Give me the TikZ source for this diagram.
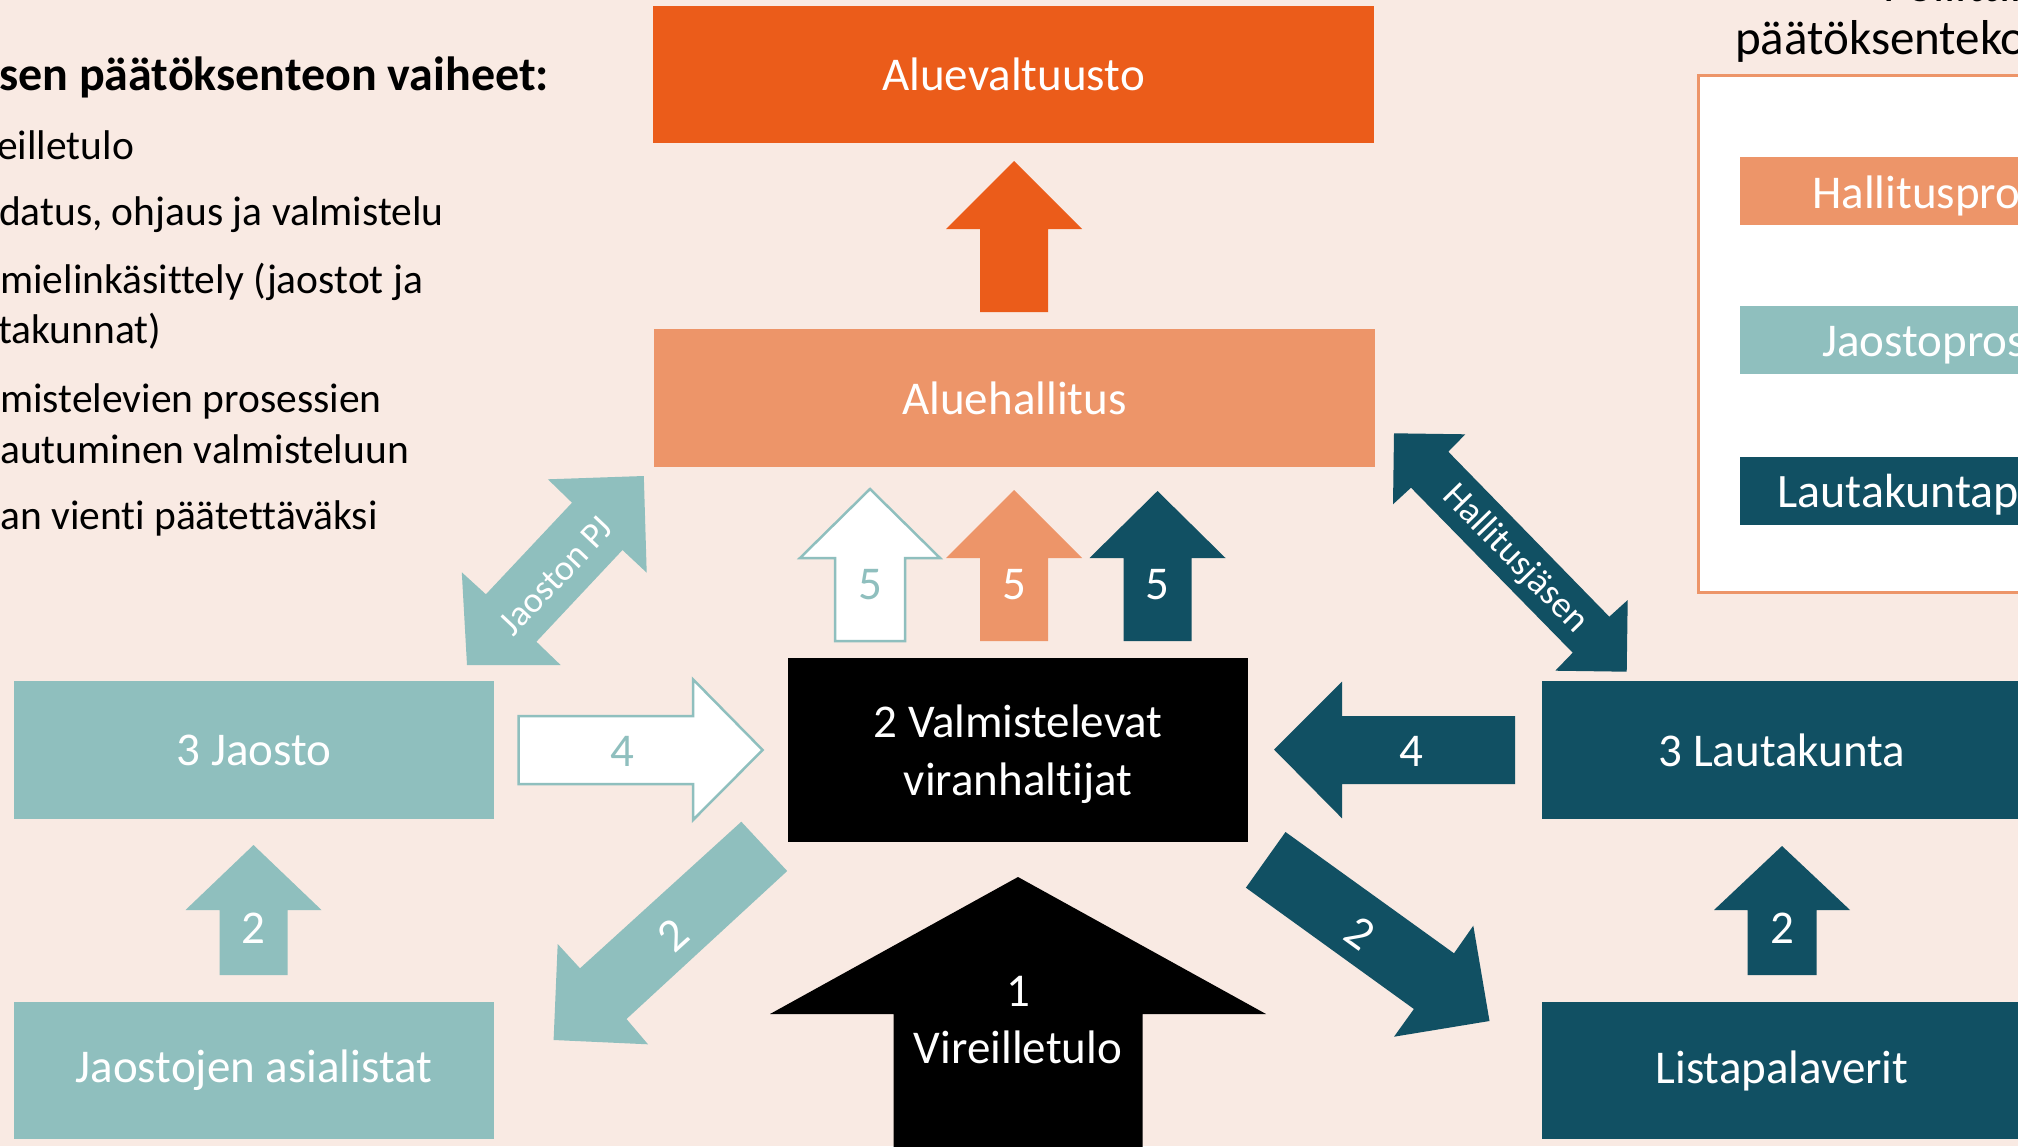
\documentclass[tikz,border=0pt]{standalone}
\usepackage{fontspec}
\setmainfont{Carlito}[Ligatures=NoCommon]

\definecolor{bgc}{RGB}{249,234,227}
\definecolor{orD}{RGB}{235,92,26}
\definecolor{orL}{RGB}{237,149,105}
\definecolor{teL}{RGB}{143,191,190}
\definecolor{teD}{RGB}{17,80,99}

% upward block arrow: style, centre x, tip y, head half width, shaft half width, head base y, tail y
\newcommand{\blockup}[7]{%
  \path[#1] (#2,#3) -- ({#2+#4},#6) -- ({#2+#5},#6) -- ({#2+#5},#7)
    -- ({#2-#5},#7) -- ({#2-#5},#6) -- ({#2-#4},#6) -- cycle;}

\tikzset{
  blk/.style={inner sep=0pt, outer sep=0pt, text=white, align=center,
    font=\fontsize{47pt}{58pt}\selectfont},
  lbl/.style={inner sep=0pt, text=white, align=center,
    font=\fontsize{47pt}{57pt}\selectfont},
  side/.style={inner sep=0pt, anchor=base west, text=black,
    font=\fontsize{41.5pt}{50pt}\selectfont},
  slant/.style={inner sep=0pt, text=white},
  outlined/.style={fill=white, draw=teL, line width=2.5pt, line join=miter},
}

\begin{document}
\begin{tikzpicture}[x=1pt,y=-1pt]
\useasboundingbox (0,0) rectangle (2018,1146);
\clip (0,0) rectangle (2018,1146);
\fill[bgc] (0,0) rectangle (2018,1146);

% ---- stages listed on the left ----
\node[side, font=\bfseries\fontsize{48pt}{56pt}\selectfont] (hdr) at (-1,90) {sen päätöksenteon vaiheet:};
\node[side] (s1) at (-3,159) {eilletulo};
\node[side] (s2) at (-23,225) {odatus, ohjaus ja valmistelu};
\node[side] (s3a) at (0,293) {mielinkäsittely (jaostot ja};
\node[side] (s3b) at (-2,343) {takunnat)};
\node[side] (s4a) at (0,412) {mistelevien prosessien};
\node[side] (s4b) at (0,463) {autuminen valmisteluun};
\node[side] (s5) at (0,529) {an vienti päätettäväksi};

% ---- legend on the right ----
\node[side, font=\fontsize{49pt}{56pt}\selectfont] (ttl1) at (1883,1) {Poliittinen};
\node[side, font=\fontsize{49pt}{56pt}\selectfont] (ttl2) at (1735,54) {päätöksenteko};
\filldraw[fill=white, draw=orL, line width=3pt] (1698,75) rectangle (2040,592);
\fill[orL] (1740,157) rectangle (2040,225);
\fill[teL] (1740,306) rectangle (2040,374);
\fill[teD] (1740,457) rectangle (2040,525);
\node[lbl, anchor=base west] (lg1) at (1812,208.6) {Hallitusprosessi};
\node[lbl, anchor=base west] (lg2) at (1822,356) {Jaostoprosessi};
\node[lbl, anchor=base west, font=\fontsize{48pt}{57pt}\selectfont] (lg3) at (1777,507) {Lautakuntaprosessi};

% ---- boxes ----
\node[blk, fill=orD, minimum width=721pt, minimum height=137pt] (valt) at (1013.5,74.5) {Aluevaltuusto};
\node[blk, fill=orL, minimum width=721pt, minimum height=138pt] (hall) at (1014.5,398) {Aluehallitus};
\node[blk, fill=black, minimum width=460pt, minimum height=184pt] (valm) at (1018,750) {};
\node[blk] (valmtxt) at (1018,754) {2 Valmistelevat\\viranhaltijat};
\node[blk, fill=teL, minimum width=480pt, minimum height=138pt] (jao) at (254,750) {3 Jaosto};
\node[blk, fill=teL, minimum width=480pt, minimum height=137pt] (jlist) at (254,1070.5) {Jaostojen asialistat};
\node[blk, fill=teD, minimum width=480pt, minimum height=138pt] (lauta) at (1782,750) {3 Lautakunta};
\node[blk, fill=teD, minimum width=480pt, minimum height=137pt] (llist) at (1782,1070.5) {Listapalaverit};

% ---- vertical block arrows ----
\blockup{fill=orD}{1014}{161}{68}{34}{229}{312}
\blockup{outlined}{870}{489}{70}{35}{558}{641}
\blockup{fill=orL}{1014}{490}{68}{34}{558}{641}
\blockup{fill=teD}{1157.5}{491}{68}{34}{558}{641}
\blockup{fill=teL}{253.5}{845}{68}{34}{910}{975}
\blockup{fill=teD}{1782}{846}{68}{34.5}{910}{975}
\blockup{fill=black}{1018}{877}{248}{124.5}{1014}{1170}

\node[lbl, text=teL] (f1) at (870,585) {5};
\node[lbl] (f2) at (1014,585) {5};
\node[lbl] (f3) at (1157.5,585) {5};
\node[lbl] (u1) at (253.5,928) {2};
\node[lbl] (u2) at (1782,928) {2};
\node[lbl] (vir) at (1018,1020) {1\\Vireilletulo};

% ---- horizontal block arrows ----
\path[outlined] (762.6,750) -- (693,679.3) -- (693,716) -- (518.6,716) -- (518.6,784)
  -- (693,784) -- (693,820) -- cycle;
\fill[teD] (1274,749.5) -- (1342,681.7) -- (1342,716) -- (1515,716) -- (1515,784)
  -- (1342,784) -- (1342,818.3) -- cycle;
\node[lbl, text=teL] (h1) at (622,751) {4};
\node[lbl] (h2) at (1411,751) {4};

% ---- slanted block arrows ----
\fill[teL] (741.3,821.7) -- (787.2,871) -- (626.5,1019) -- (648,1044.3) -- (553.6,1040)
  -- (557.7,944) -- (580,968.3) -- cycle;
\node[lbl, rotate=42] (d1) at (673,935) {2};
\fill[teD] (1285.5,832) -- (1454,953.3) -- (1473.3,925.7) -- (1489.5,1021) -- (1394,1036.7)
  -- (1413.9,1009) -- (1245.9,887.7) -- cycle;
\node[lbl, rotate=-36] (d2) at (1360,933) {2};

% ---- double arrows ----
\fill[teL] (643.8,476) -- (646.7,572.7) -- (622.5,550) -- (536.4,641.7) -- (560.6,665)
  -- (467,665) -- (461.8,572.3) -- (485.9,594.3) -- (572,502.7) -- (547.9,479.3) -- cycle;
\node[slant, rotate=46.6, font=\fontsize{36pt}{40pt}\selectfont] (pj) at (556,576) {Jaoston PJ};
\fill[teD] (1394,433.3) -- (1465.3,434.3) -- (1448.3,451.7) -- (1609.3,616.7) -- (1627.7,600)
  -- (1626.7,671.7) -- (1555.3,670.7) -- (1572.7,652.7) -- (1411,487.7) -- (1393,504.3) -- cycle;
\node[slant, rotate=-45.7, font=\fontsize{37pt}{42pt}\selectfont] (hj) at (1515,559) {Hallitusjäsen};
\end{tikzpicture}
\end{document}
